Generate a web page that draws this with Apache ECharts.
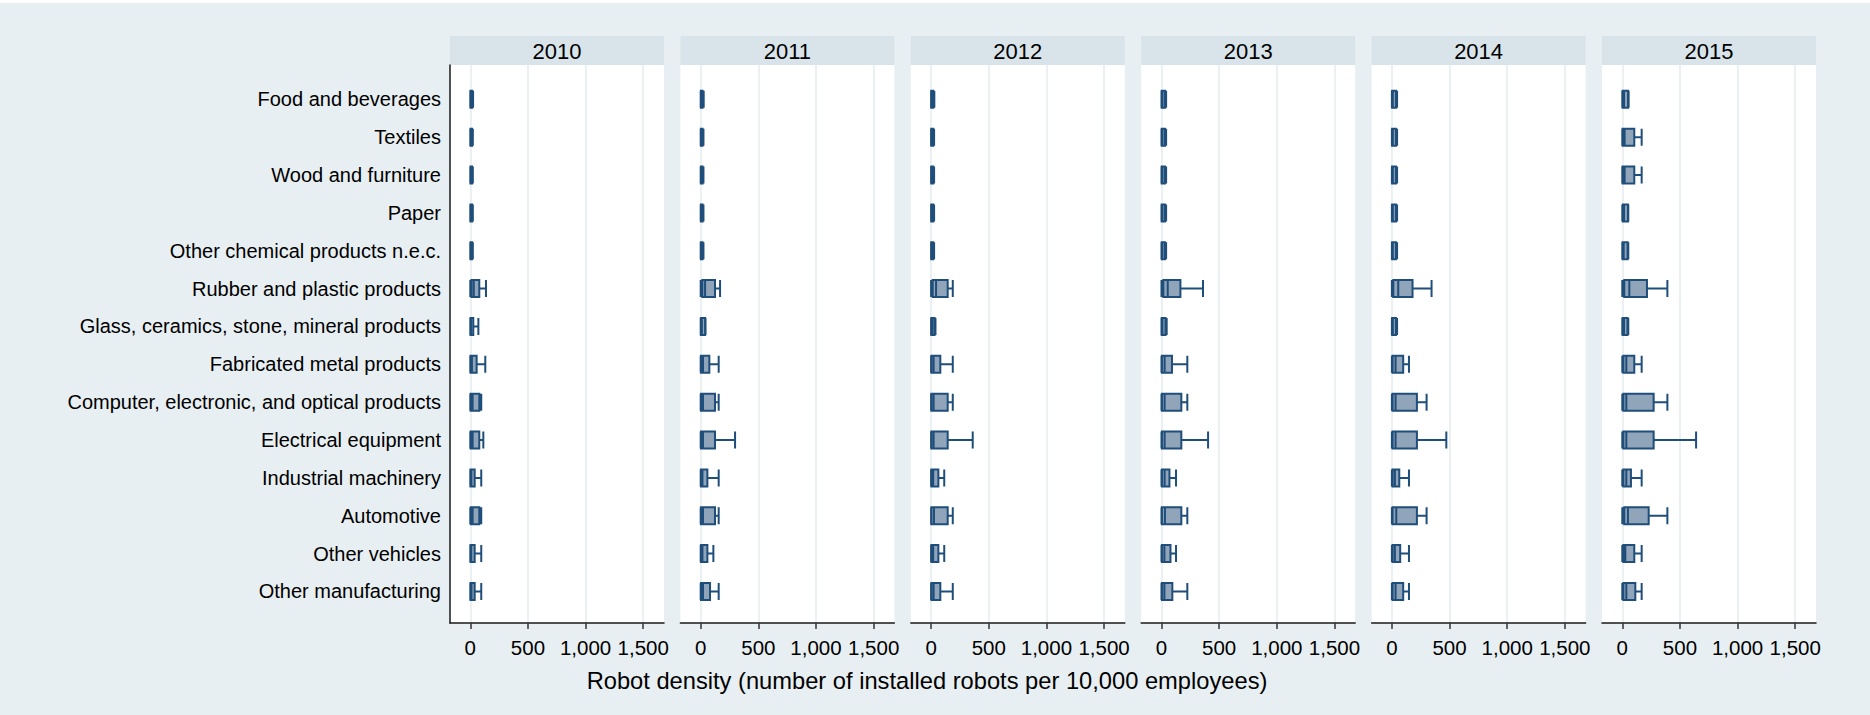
<!DOCTYPE html>
<html>
<head>
    <meta charset="utf-8">
    <title>Robot density by industry, 2010-2015</title>
    <script src="https://cdn.jsdelivr.net/npm/echarts@6/dist/echarts.min.js"></script>
    <style>
        html, body { margin: 0; padding: 0; background: #fff; }
    </style>
</head>
<body>
    <div id="chartmain" style="width:1870px; height:715px;"></div>
    <script type="text/javascript">
        // industries, top to bottom
        var categories = [
            'Food and beverages',
            'Textiles',
            'Wood and furniture',
            'Paper',
            'Other chemical products n.e.c.',
            'Rubber and plastic products',
            'Glass, ceramics, stone, mineral products',
            'Fabricated metal products',
            'Computer, electronic, and optical products',
            'Electrical equipment',
            'Industrial machinery',
            'Automotive',
            'Other vehicles',
            'Other manufacturing'
        ];
        var years = ['2010', '2011', '2012', '2013', '2014', '2015'];
        var xTicks = [0, 500, 1000, 1500];

        // [lower adjacent, p25, median, p75, upper adjacent]
        var box2010 = [
            [0, 2, 5, 16, 24], [0, 2, 5, 15, 22], [0, 2, 5, 15, 22], [0, 2, 5, 15, 22], [0, 2, 5, 15, 22],
            [0, 10, 30, 78, 136], [0, 2, 6, 26, 70], [0, 2, 14, 55, 130], [0, 3, 20, 78, 95],
            [0, 3, 20, 78, 113], [0, 2, 9, 38, 95], [0, 5, 20, 78, 95], [0, 2, 8, 38, 95], [0, 2, 10, 38, 95]
        ];
        var box2011 = [
            [0, 2, 5, 16, 26], [0, 2, 5, 16, 24], [0, 2, 5, 16, 24], [0, 2, 5, 16, 24], [0, 2, 5, 16, 24],
            [0, 14, 38, 124, 168], [0, 2, 10, 38, 42], [0, 3, 20, 75, 156], [0, 3, 20, 124, 156],
            [0, 3, 20, 124, 298], [0, 3, 15, 58, 156], [0, 3, 20, 124, 156], [0, 3, 15, 58, 110], [0, 3, 20, 81, 156]
        ];
        var box2012 = [
            [0, 2, 6, 18, 28], [0, 2, 6, 18, 26], [0, 2, 6, 18, 26], [0, 2, 6, 18, 26], [0, 2, 6, 18, 26],
            [0, 14, 43, 144, 188], [0, 2, 10, 30, 38], [0, 3, 22, 80, 188], [0, 3, 22, 144, 188],
            [0, 3, 22, 144, 361], [0, 3, 18, 63, 114], [0, 3, 25, 144, 188], [0, 3, 18, 63, 114], [0, 3, 22, 80, 188]
        ];
        var box2013 = [
            [0, 2, 8, 30, 40], [0, 2, 8, 30, 40], [0, 2, 8, 30, 40], [0, 2, 8, 30, 40], [0, 2, 8, 30, 40],
            [0, 16, 54, 164, 360], [0, 2, 8, 35, 45], [0, 4, 27, 91, 224], [0, 4, 27, 172, 224],
            [0, 4, 27, 172, 404], [0, 4, 27, 69, 126], [0, 4, 30, 172, 224], [0, 4, 25, 78, 126], [0, 4, 25, 94, 224]
        ];
        var box2014 = [
            [0, 2, 8, 35, 45], [0, 2, 8, 35, 45], [0, 2, 8, 35, 45], [0, 2, 8, 35, 45], [0, 2, 8, 35, 45],
            [0, 12, 55, 179, 344], [0, 2, 8, 35, 45], [0, 6, 32, 98, 148], [0, 6, 32, 217, 301],
            [0, 6, 32, 217, 472], [0, 6, 26, 64, 148], [0, 6, 38, 217, 301], [0, 6, 26, 72, 148], [0, 6, 32, 98, 148]
        ];
        var box2015 = [
            [0, 3, 15, 50, 55], [0, 3, 20, 104, 168], [0, 3, 20, 104, 168], [0, 6, 15, 49, 52], [0, 3, 12, 46, 52],
            [0, 17, 61, 214, 391], [0, 3, 15, 45, 52], [0, 9, 35, 104, 168], [0, 9, 35, 272, 391],
            [0, 9, 35, 272, 640], [0, 9, 35, 75, 168], [0, 17, 49, 229, 391], [0, 9, 26, 104, 168], [0, 9, 35, 113, 168]
        ];
        var boxes = [box2010, box2011, box2012, box2013, box2014, box2015];

        var font = 'Liberation Sans, Arial, sans-serif';
        var panelLeft = 450, panelStep = 230.4, panelWidth = 214;
        var xMin = -176, xMax = 1680;

        var grids = [], xAxes = [], yAxes = [], series = [], graphics = [];

        // page background
        graphics.push({
            type: 'rect', z: -10, silent: true,
            shape: { x: 0, y: 3, width: 1870, height: 712 },
            style: { fill: '#e8eff2' }
        });

        for (var i = 0; i < years.length; i++) {
            var left = panelLeft + i * panelStep;

            // frame grid: white plot area, x axis, grid lines
            grids.push({
                left: left, top: 65, width: panelWidth, height: 558,
                show: true, backgroundColor: '#ffffff', borderWidth: 0
            });
            xAxes.push({
                type: 'value', gridIndex: i, min: xMin, max: xMax,
                axisLine: { show: true, lineStyle: { color: '#1a1a1a', width: 1.5 } },
                axisTick: { show: true, length: 6, customValues: xTicks, lineStyle: { color: '#333', width: 1.5 } },
                axisLabel: {
                    customValues: xTicks,
                    margin: 14, color: '#000', fontSize: 20.5, fontFamily: font,
                    formatter: function (v) { return Number(v).toLocaleString('en-US'); }
                },
                splitLine: { show: true, lineStyle: { color: '#e4ecef', width: 1.5 } }
            });
            yAxes.push({
                type: 'value', gridIndex: i, min: 0, max: 1,
                axisLine: { show: i === 0, onZero: false, lineStyle: { color: '#1a1a1a', width: 1.5 } },
                axisTick: { show: false }, axisLabel: { show: false }, splitLine: { show: false }
            });

            // header strip with the year
            graphics.push({
                type: 'rect', silent: true,
                shape: { x: left, y: 36, width: panelWidth, height: 29 },
                style: { fill: '#d8e4ea' }
            });
            graphics.push({
                type: 'text', silent: true,
                x: left + panelWidth / 2, y: 51,
                style: { text: years[i], fill: '#000', font: '22px ' + font, align: 'center', verticalAlign: 'middle' }
            });
        }

        // inner grids hold the boxes (rows sit a bit inside the frame)
        for (var j = 0; j < years.length; j++) {
            var l2 = panelLeft + j * panelStep;
            grids.push({ left: l2, top: 80.4, width: panelWidth, height: 530 });
            xAxes.push({ type: 'value', gridIndex: 6 + j, min: xMin, max: xMax, show: false });
            yAxes.push({
                type: 'category', gridIndex: 6 + j, data: categories, inverse: true,
                axisLine: { show: false }, axisTick: { show: false }, splitLine: { show: false },
                axisLabel: { show: j === 0, margin: 9, color: '#000', fontSize: 20, fontFamily: font }
            });
            series.push({
                type: 'boxplot', xAxisIndex: 6 + j, yAxisIndex: 6 + j,
                data: boxes[j], boxWidth: [17, 17], silent: true,
                itemStyle: { color: '#90a4ba', borderColor: '#1f4e7a', borderWidth: 2 },
                emphasis: { disabled: true }
            });
        }

        var option = {
            animation: false,
            backgroundColor: '#ffffff',
            title: {
                text: 'Robot density (number of installed robots per 10,000 employees)',
                left: 922, top: 664, textAlign: 'center',
                textStyle: { color: '#000', fontSize: 23.7, fontWeight: 'normal', fontFamily: font }
            },
            grid: grids,
            xAxis: xAxes,
            yAxis: yAxes,
            series: series,
            graphic: graphics
        };

        var myChart = echarts.init(document.getElementById('chartmain'), null, { renderer: 'svg' });
        myChart.setOption(option);
    </script>
</body>
</html>
